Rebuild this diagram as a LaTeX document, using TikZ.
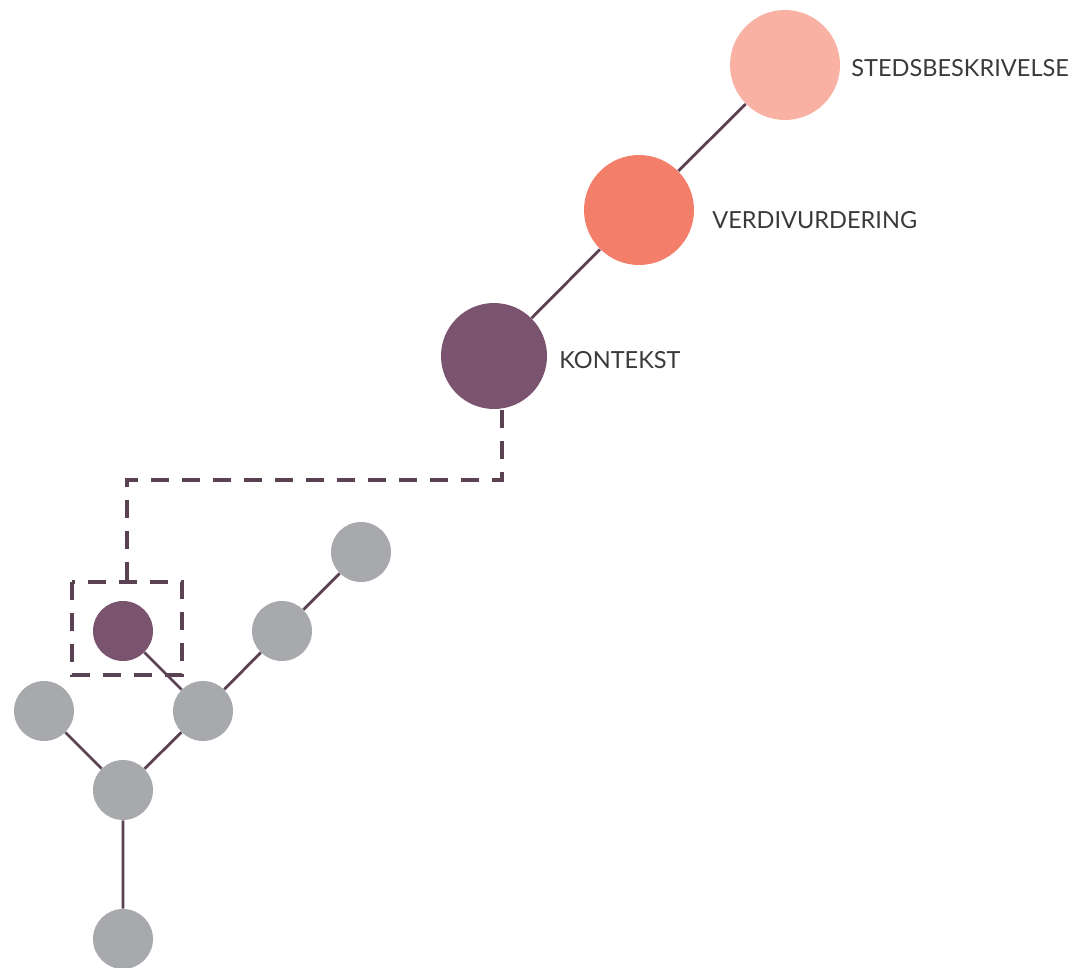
\documentclass[tikz,border=0pt]{standalone}
\usepackage{fontspec}
\setmainfont{Lato}
\usetikzlibrary{positioning}
\definecolor{pinklt}{HTML}{F8B1A3}
\definecolor{coral}{HTML}{F37E69}
\definecolor{plum}{HTML}{7A536F}
\definecolor{greydot}{HTML}{A8A9AD}
\definecolor{linkc}{HTML}{5A4253}
\definecolor{txtc}{HTML}{3A3A3C}
\tikzset{
  bigdot/.style={circle,minimum size=2.2cm,inner sep=0pt},
  smalldot/.style={circle,minimum size=1.2cm,inner sep=0pt,fill=greydot},
  link/.style={draw=linkc,line width=1.6pt},
  dlink/.style={draw=linkc,line width=1.8pt,dash pattern=on 0.36cm off 0.26cm},
  steplbl/.style={font=\fontsize{13.4}{16}\selectfont,text=txtc,inner sep=0pt},
}
\begin{document}
\begin{tikzpicture}[x=0.02cm,y=-0.02cm]
  \useasboundingbox (0,0) rectangle (1078,967);
  % three stages
  \node[bigdot,fill=pinklt] (sted) at (785,65) {};
  \node[bigdot,fill=coral] (verdi) at (639,210) {};
  \node[bigdot,fill=plum,minimum size=2.12cm] (kont) at (494,356) {};
  \node[steplbl,anchor=west] (stedlbl) at (851,68) {STEDSBESKRIVELSE};
  \node[steplbl,anchor=west] (verdilbl) at (712,220) {VERDIVURDERING};
  \node[steplbl,anchor=west] (kontlbl) at (559,360) {KONTEKST};
  % small network
  \foreach \n/\x/\y in {g1/361/552,g2/282/631,g3/203/711,g4/44/711,g5/123/790,g6/123/939}
    \node[smalldot] (\n) at (\x,\y) {};
  \node[smalldot,fill=plum] (sel) at (123,631) {};
  \draw[dlink] (72,582) rectangle (182,675);
  \coordinate (boxtop) at (127,582);
  \coordinate (kbot) at (502,410);
  % links
  \path[link] (sted) -- (verdi) (verdi) -- (kont);
  \path[link] (sel) -- (g3) (g3) -- (g2) (g2) -- (g1)
    (g4) -- (g5) (g3) -- (g5) (g5) -- (g6);
  \draw[dlink] (kbot) |- (127,480) -- (boxtop);
\end{tikzpicture}
\end{document}
